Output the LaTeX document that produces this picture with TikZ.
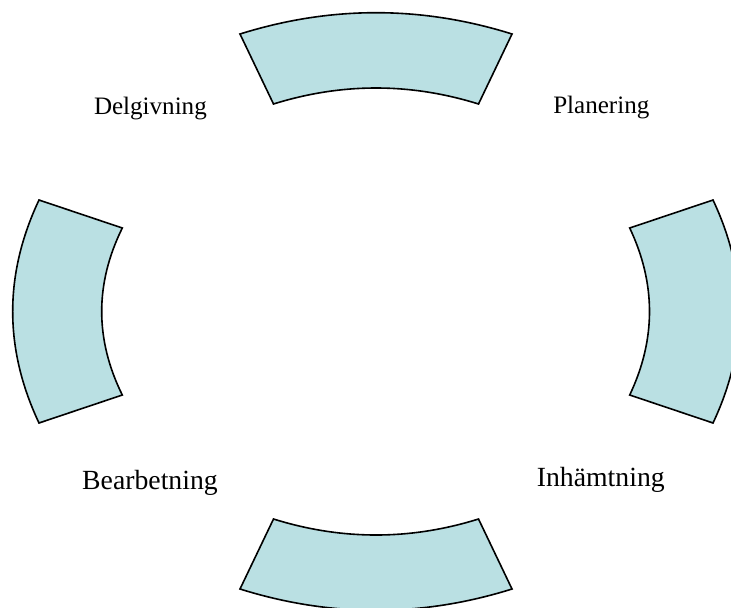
\documentclass[tikz,border=0pt]{standalone}
\usepackage{fontspec}
\setmainfont{Liberation Serif}
\definecolor{arcfill}{RGB}{186,224,227}
\begin{document}
\begin{tikzpicture}[x=0.75pt,y=-0.75pt,
  blk/.style={draw=black,fill=arcfill,line width=1.2pt,line join=miter},
  toplbl/.style={anchor=base,inner sep=0pt,font=\fontsize{18.8}{22}\selectfont},
  botlbl/.style={anchor=base,inner sep=0pt,font=\fontsize{20.8}{24}\selectfont}]
\useasboundingbox (0,0) rectangle (731,607);
\clip (0,0) rectangle (731,607);
% top
\draw[blk] (240,34) .. controls (330.67,5.6) and (421.33,5.6) .. (512,34)
  -- (478.5,104) .. controls (410.17,82.67) and (341.83,82.67) .. (273.5,104) -- cycle;
% bottom
\draw[blk] (273.5,519) .. controls (341.83,540.33) and (410.17,540.33) .. (478.5,519)
  -- (512,589) .. controls (421.33,617.4) and (330.67,617.4) .. (240,589) -- cycle;
% left
\draw[blk] (39,200) -- (122.3,228) .. controls (94.83,283.67) and (94.83,339.33) .. (122.3,395)
  -- (39,423) .. controls (3.93,348.67) and (3.93,274.33) .. (39,200) -- cycle;
% right
\draw[blk] (713,200) -- (629.7,228) .. controls (656.1,283.67) and (656.1,339.33) .. (629.7,395)
  -- (713,423) .. controls (748.07,348.67) and (748.07,274.33) .. (713,200) -- cycle;
% labels
\node[toplbl] (delg) at (150.4,114) {Delgivning};
\node[toplbl] (plan) at (601.3,113.7) {Planering};
\node[botlbl] (bear) at (150,489) {Bearbetning};
\node[botlbl] (inh) at (600.8,486) {Inhämtning};
\end{tikzpicture}
\end{document}
